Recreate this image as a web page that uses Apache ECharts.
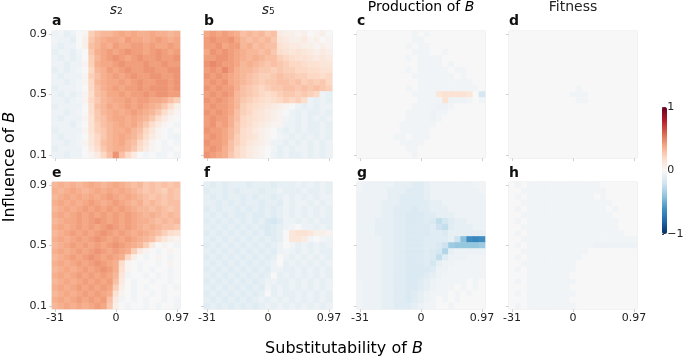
<!DOCTYPE html>
<html>
<head>
<meta charset="utf-8">
<script src="https://cdn.jsdelivr.net/npm/echarts@6/dist/echarts.min.js"></script>
<style>
html, body { margin: 0; padding: 0; background: #fff; }
#chart { width: 685px; height: 358px; }
</style>
</head>
<body>
<div id="chart"></div>
<script>
// axis ticks (cell index -> label)
const tickCells = [0, 10, 20];
const xTickLabels = ['-31', '0', '0.97'];   // substitutability of B
const yTickLabels = ['0.1', '0.5', '0.9'];  // influence of B, bottom to top
const cellIndex = ['0', '1', '2', '3', '4', '5', '6', '7', '8', '9', '10',
  '11', '12', '13', '14', '15', '16', '17', '18', '19', '20'];

const colTitles = ['s2', 's5', 'Production of B', 'Fitness'];
const panelLetters = ['a', 'b', 'c', 'd', 'e', 'f', 'g', 'h'];

// each panel: 21 rows, top row = 0.9, bottom row = 0.1, one char per cell
// '0' = 0, 'A'..'Z' = +0.03 per step, 'a'..'z' = -0.03 per step
const panelA = [
  'bacb0AHJKKLMLMLLMLLKL',
  'abbc0BIKLMMLNMMLMNMLM',
  'bcbb0BJKMLNMMNNMNMMNM',
  'cbbca0ILMNMNONNMNONMN',
  'bcbcb0HKMNONMNONNONNO',
  'bbcbbAHLMMNONNNONNONN',
  'cbcba0GKLNMNONNOONNOO',
  'bcbbbAHJLMNMNONNOONNO',
  'bbcbaAGKLMMNMNONNOONO',
  'cbbba0GJLMNMNNONOOONO',
  'bcbcbAFJKMMNMNNONOONN',
  'bbcbaAGIKLMMNMNNMMLJH',
  'cbbbb0FJKMLMNMNMLKIFB',
  'bbcba0FIKLMLMNMLKIFCA',
  'bcbbbAEIJLMMLMLKIFCA0',
  'bbbca0EHJKLMLMKIFCA0a',
  'cbbbbAEHIKLLMKJGDA0a0',
  'bcbba0DGIKLMLKIFCA0ab',
  'bbcbaADGJKLMKJGDA0a0a',
  'cbbbb0CFIKLLKIFCA0aa0',
  'bbcbb0ACGJOJGC0a0aa0a'
];
const panelB = [
  'MNMNMLJKJKIJCBBAB0AB0',
  'NONNOMKJKJKIDCBBCAB0A',
  'NNOMNNKLJKJJEDCCBBABA',
  'MONONMLKKJKIFEDEDCBCB',
  'NNOONMLKLKJJHGFEEDCDC',
  'OPONNMKLKJIJIHGGFEEDD',
  'NONPNLKKJIIHIHHGGFFEE',
  'ONONMLKJIHHIJIIHHGGFG',
  'NONOMLKJIHIIJJIJHIHIG',
  'ONONNLJIHGHIIJJIJIJIH',
  'NONONKJIHGFGHIIHIHGbc',
  'ONONMKIHGFEFGHGHFbcbc',
  'NONNMKHGFEDCBA0bcbcbb',
  'ONONMJHGEDCBA0bcbccbc',
  'NONNLJGFEDCBAabcbcbcb',
  'NOMNLIGFDCBAAbbcbccbc',
  'ONNMKIFECBA0bcbcbccbc',
  'NONMKHFEDBA0abcbcbcbc',
  'ONNMJHFDCBAbbcbcbcbcb',
  'NONLJGECBA0acbcbbcbcb',
  'ONMLIGECBA0bcbccbcbcb'
];
const panelC = [
  '000000000a0a000000000',
  '000000000aa0000000000',
  '00000000a0aa000000000',
  '000000000aaa00a000000',
  '00000000a0aaaa0000000',
  '0000000000aaaa0a00000',
  '00000000a0aaaaa0aa000',
  '000000000aaaaaaa0a000',
  '0000000000aaaaaaaaa00',
  '00000000a0aaaaaaaaaa0',
  '000000000aaaaDEEEED0f',
  '0000000000aaaaEbbba0a',
  '000000000aaaabba00000',
  '00000000aaaabaa000000',
  '00000000aaaaba0000000',
  '0000000aaaaaa00000000',
  '0000000aaaaa000000000',
  '000000aa0aaa000000000',
  '0000000aaaa0000000000',
  '00000000aa00000000000',
  '000000000a00000000000'
];
const panelD = [
  '000000000000000000000',
  '000000000000000000000',
  '000000000000000000000',
  '000000000000000000000',
  '000000000000000000000',
  '000000000000000000000',
  '000000000000000000000',
  '000000000000000000000',
  '000000000000000000000',
  '00000000000a000000000',
  '0000000000aaa00000000',
  '00000000000aa00000000',
  '000000000000000000000',
  '000000000000000000000',
  '000000000000000000000',
  '000000000000000000000',
  '000000000000000000000',
  '000000000000000000000',
  '000000000000000000000',
  '000000000000000000000',
  '000000000000000000000'
];
const panelE = [
  'KLKLKLMLKLMLKJKIJIJIJ',
  'LKLMLKLMLMLMLKJIJIHJI',
  'KLMLMLMLMNMLMLKJIJIJI',
  'LMLMLMNMLMNMLKLJKJIJJ',
  'KLMLMNMNMNMNMLKKJKJIJ',
  'LMLMNMNMNMNMNMLKLKJKJ',
  'KLMMNMNONMNMNMLLKJKJK',
  'LMLMNMNMNONMNMLKLKJJI',
  'KLMNMNMNONMNMLMLKJHFE',
  'LMLMNMNONMNMNMLKJGDBA',
  'KLMNMNMNMNONMLKHC0A0a',
  'LMLMNMNONMNMLHCA0a0A0',
  'KLMNMNONMNMLGB0a0A0a0',
  'LMLMNMNONMLFA0a00a0A0',
  'KLMLMNMNONLEA0a0a00a0',
  'LMLMNMNMNMKDa00a0a0a0',
  'KLMLMNMNMNJC0a00a00a0',
  'LMLMNMNMNMHB0a0a00a0a',
  'KLMLMNMNMLEA0a00a0a00',
  'LMLMNMNMNJCa0a0a00a0a',
  'KLMLMLMNMIB0a00a0a00a'
];
const panelF = [
  'cdcdcccdcccdcccbcbcbc',
  'dccdcdcccdccbcccbccbc',
  'cdcdccdcdccdcbcbcbcbb',
  'ccdcdcdccdccdbcbbcbcb',
  'dcdccdcdcdcdcbcbcbcbc',
  'cdcdcddcddcdcbcbcbcbc',
  'dcdcdcdcdcefdbbcbcbcc',
  'cdcdcdcdcdedcba0bbcbc',
  'dcdcdcdcdcedc0DEEDBBA',
  'cdcdcdcdcdcdc0DDCa0ab',
  'dcdcdcdcdcdcb0acbcbcb',
  'cdcdcdcdcdcdbabcbcbcc',
  'dcdcdcdcdcdc0bcbcbcbc',
  'cdcdcdcdcdcb0cbcbcbcb',
  'dcdcdcdcdcdbbccbcbcbc',
  'cdcdcdcdcdc0cbcbcbcbc',
  'dcdcdcdcdcbbccbcbcbcb',
  'cdcdcdcdcdacbcbcbcbcb',
  'dcdcdcdcdc0cbccbcbcbc',
  'cdcdcdcdcbcbcbcbcbcbc',
  'dcdcdcdcdcbcbcbcbcbcb'
];
const panelG = [
  'abbbbbcccddcbbbbbbbaa',
  'abbbbcccdddcbbbbbbbba',
  'bbbbbccddddcbbbbbbbbb',
  'bbbbcccdddddccbbbbbbb',
  'bbbbccdddeddcccbbbbbb',
  'bbbbccddeeeddcccbbbbb',
  'bbbcccddeeedehfdccbbb',
  'bbbcccddeeeedghdcccbb',
  'bbbcccddeeeeddecccccc',
  'bbbbccddeeeddddcgnuvu',
  'bbbbccddeeeddeglmmmml',
  'bbbbccddeeedefjcbbbbb',
  'bbbbccddeeedehdbbbaaa',
  'bbbbccddeeedfcbbaaaaa',
  'bbbbccddeeeedbbaaaaaa',
  'bbbbccddeeedcbaaaaaaa',
  'abbbccddeedcbaaaaa0a0',
  'abbbccddeedcbaaa0a0a0',
  'abbbccddedcbaaa0a0a00',
  'abbbccddedcba0a0a0000',
  'abbbccdddcbaa00a00000'
];
const panelH = [
  '0a0aaaaaaaaaaaa000000',
  '00aaaaaaaaaaaaaa00000',
  '0a0aaaaaaaaaaa0a00000',
  '00aaaaaaaaaaaaaaa0000',
  '0a0aaaaaaaaaaaaa0a000',
  '00aaaaaaaaaaaaaaa0000',
  '0a0aaaaaaaaaaaaaaa000',
  '00aaaaaaaaaaaaaaaa000',
  '0a0aaaaaaaaaaaaaaaa00',
  '00aaaaaaaaaaaaaaaaaaa',
  '0a0aaaaaaaaaaabbbbbbb',
  '00aaaaaaaaaaa00000000',
  '0a0aaaaaaaaa000000000',
  '00aaaaaaaaa0000000000',
  '0a0aaaaaaaa0000000000',
  '000aaaaaaa00000000000',
  '0a0aaaaaaaa0000000000',
  '000aaaaaaa00000000000',
  '0a0aaaaaaaa0000000000',
  '000aaaaaaa00000000000',
  '0a0aaaaaaaa0000000000'
];

const panels = [panelA, panelB, panelC, panelD, panelE, panelF, panelG, panelH];

// RdBu reversed, low -> high
const rdbu = ['#053061', '#2166ac', '#4393c3', '#92c5de', '#d1e5f0', '#f7f7f7',
  '#fddbc7', '#f4a582', '#d6604d', '#b2182b', '#67001f'];

const colLeft = [52, 204, 357, 509];
const rowTop = [31, 182];
const boxW = 128;
const boxH = 127;
const font = 'DejaVu Sans';

function decode (ch) {
  if (!ch || ch === '0') return 0;
  const c = ch.charCodeAt(0);
  if (c >= 65 && c <= 90) return (c - 64) * 0.03;
  return -(c - 96) * 0.03;
}

function toCells (rows) {
  const out = [];
  const n = cellIndex.length;
  rows.forEach((row, r) => {
    for (let c = 0; c < n; c++) {
      out.push([c, n - 1 - r, +decode(row[c]).toFixed(2)]);
    }
  });
  return out;
}

function tickLabel (labels) {
  return (value, index) => {
    const k = tickCells.indexOf(index);
    return k < 0 ? '' : labels[k];
  };
}
const onTick = (index) => tickCells.indexOf(index) >= 0;

const grids = [];
const xAxes = [];
const yAxes = [];
const series = [];

panels.forEach((rows, i) => {
  const col = i % 4;
  const row = Math.floor(i / 4);
  grids.push({
    left: colLeft[col], top: rowTop[row], width: boxW, height: boxH,
    show: true, borderColor: '#e4e4e4', borderWidth: 1, backgroundColor: 'transparent'
  });
  xAxes.push({
    gridIndex: i, type: 'category', data: cellIndex,
    axisLine: { show: false },
    axisTick: { show: true, interval: onTick, alignWithLabel: true, length: 3, lineStyle: { color: '#d0d0d0' } },
    axisLabel: { show: row === 1, interval: onTick, formatter: tickLabel(xTickLabels), fontSize: 11, color: '#222', margin: 4, fontFamily: font },
    splitLine: { show: false }
  });
  yAxes.push({
    gridIndex: i, type: 'category', data: cellIndex,
    axisLine: { show: false },
    axisTick: { show: true, interval: onTick, alignWithLabel: true, length: 3, lineStyle: { color: '#d0d0d0' } },
    axisLabel: { show: col === 0, interval: onTick, formatter: tickLabel(yTickLabels), fontSize: 11, color: '#222', margin: 5, fontFamily: font },
    splitLine: { show: false }
  });
  series.push({
    type: 'heatmap', xAxisIndex: i, yAxisIndex: i,
    data: toCells(rows), silent: true, emphasis: { disabled: true }
  });
});

// colour bar scale
grids.push({ left: 662, top: 107, width: 5, height: 127, show: false });
xAxes.push({ gridIndex: 8, type: 'value', show: false });
yAxes.push({
  gridIndex: 8, type: 'value', min: -1, max: 1, interval: 1, position: 'right',
  axisLine: { show: false }, splitLine: { show: false },
  axisTick: { show: true, length: 2, lineStyle: { color: '#444' } },
  axisLabel: { fontSize: 11, color: '#222', margin: 4, fontFamily: font,
    formatter: (v) => v < 0 ? '\u2212' + Math.abs(v) : String(v) }
});

const graphic = [];
colTitles.forEach((t, c) => {
  const cx = colLeft[c] + boxW / 2;
  if (t[0] === 's' && t.length === 2) {
    graphic.push({ type: 'text', x: cx + 1, y: 10, style: { text: 's', fontSize: 14, fontStyle: 'italic', fontFamily: font, fill: '#222', align: 'right', verticalAlign: 'middle' } });
    graphic.push({ type: 'text', x: cx + 1, y: 12, style: { text: t[1], fontSize: 9, fontFamily: font, fill: '#222', align: 'left', verticalAlign: 'middle' } });
  } else if (t.endsWith(' B')) {
    graphic.push({ type: 'text', x: cx, y: 7, style: {
      text: '{n|' + t.slice(0, -1) + '}{i|B}', align: 'center', verticalAlign: 'middle',
      rich: { n: { fontSize: 14, fontFamily: font, color: '#222' }, i: { fontSize: 14, fontStyle: 'italic', fontFamily: font, color: '#222' } }
    } });
  } else {
    graphic.push({ type: 'text', x: cx, y: 7, style: { text: t, fontSize: 14, fontFamily: font, fill: '#222', align: 'center', verticalAlign: 'middle' } });
  }
});
panelLetters.forEach((l, i) => {
  graphic.push({ type: 'text', x: colLeft[i % 4], y: i < 4 ? 21 : 173, style: {
    text: l, fontSize: 14, fontWeight: 'bold', fontFamily: font, fill: '#111', align: 'left', verticalAlign: 'middle'
  } });
});
graphic.push({ type: 'text', x: 344, y: 349, style: {
  text: '{n|Substitutability of }{i|B}', align: 'center', verticalAlign: 'middle',
  rich: { n: { fontSize: 16, fontFamily: font, color: '#222' }, i: { fontSize: 16, fontStyle: 'italic', fontFamily: font, color: '#222' } }
} });
graphic.push({ type: 'text', x: 10, y: 167, rotation: Math.PI / 2, style: {
  text: '{n|Influence of }{i|B}', align: 'center', verticalAlign: 'middle',
  rich: { n: { fontSize: 16, fontFamily: font, color: '#222' }, i: { fontSize: 16, fontStyle: 'italic', fontFamily: font, color: '#222' } }
} });

const chart = echarts.init(document.getElementById('chart'));
chart.setOption({
  animation: false,
  backgroundColor: '#fff',
  textStyle: { fontFamily: font },
  grid: grids,
  xAxis: xAxes,
  yAxis: yAxes,
  visualMap: {
    type: 'continuous', min: -1, max: 1, calculable: false, orient: 'vertical',
    seriesIndex: [0, 1, 2, 3, 4, 5, 6, 7],
    left: 662, top: 107, itemWidth: 5, itemHeight: 127, padding: 0,
    inRange: { color: rdbu }
  },
  graphic: graphic,
  series: series
});
</script>
</body>
</html>
